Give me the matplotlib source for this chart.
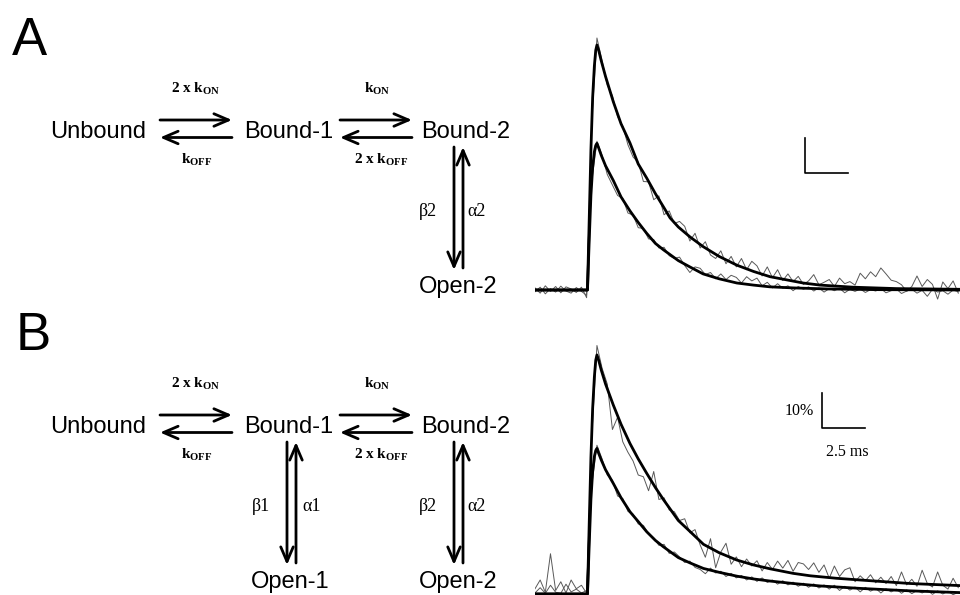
import numpy as np
import matplotlib
matplotlib.use('Agg')
import matplotlib.pyplot as plt

plt.rcParams['mathtext.fontset'] = 'custom'
plt.rcParams['mathtext.bf'] = 'Liberation Serif:bold'
plt.rcParams['mathtext.rm'] = 'Liberation Serif'
plt.rcParams['mathtext.it'] = 'Liberation Serif:italic'

"""
Two binding schemes (A, B) and the simulated / recorded responses next to them
"""

# sampling interval of the noisy recordings (ms)
dt = 0.3

# panel A, recorded traces (% of max), one sample every dt
a_high_raw = [0.6, -0.9, 1.2, -0.4, 1.0, -0.8, 0.9, 0.3, -0.7, 0.8,
              -2.2, 48, 72, 65.5, 58.5, 55.5, 49.5, 46.8, 41.5, 38.0,
              36.5, 31.0, 30.9, 25.8, 26.9, 21.5, 22.6, 19.0, 19.6, 18.2,
              14.0, 16.2, 12.0, 13.8, 10.0, 9.0, 11.2, 7.5, 9.6, 6.6,
              9.0, 5.8, 8.2, 6.9, 4.0, 6.6, 3.5, 5.8, 2.7, 4.6,
              2.4, 3.9, 1.6, 2.6, 4.4, 1.5, 2.2, 3.0, 1.0, 3.4,
              1.8, 2.4, 1.4, 4.8, 3.2, 5.2, 3.8, 6.3, 4.6, 2.8,
              2.4, 1.5, -0.4, 1.0, 4.0, 1.0, 3.0, 1.6, -2.6, 2.3,
              0.4, 2.6, -0.9]
a_low_raw = [-0.5, 0.8, -1.1, 0.4, -0.6, 1.1, -0.3, -0.9, 0.7, -0.4,
             -1.5, 31, 42.5, 38.5, 33.0, 30.0, 27.0, 26.2, 22.0, 21.4,
             17.8, 17.6, 14.6, 14.4, 12.0, 12.2, 9.8, 9.0, 9.4, 7.0,
             5.0, 6.6, 6.2, 4.4, 5.0, 3.2, 4.6, 3.0, 4.2, 3.6,
             2.0, 3.8, 2.6, 3.4, 1.2, 2.2, 0.6, 1.8, 0.5, 1.2,
             -0.2, 1.0, 0.2, 0.9, -0.3, 0.6, -0.6, 0.4, -0.2, 0.5,
             -0.8, 0.2, -0.4, 0.3, -0.7, 0.1, -0.3, 0.4, -0.8, -0.2,
             0.3, -1.0, -0.3, 0.2, -0.9, -0.1, -1.8, 0.2, -0.6, -0.2,
             -1.2, 0.0, -0.5]

# panel A, fitted curves (ms, %)
a_high_fit_t = [0, 3.05, 3.15, 3.25, 3.35, 3.45, 3.53, 3.6, 3.7, 3.85, 4.1, 4.55, 5.0, 5.52,
                6.0, 6.49, 7.0, 7.46, 7.85, 8.33, 9.0, 9.77, 10.7, 11.73, 12.7, 13.66,
                15.58, 16.57, 18.5, 21.0, 24.7]
a_high_fit = [0, 0, 20, 40, 55, 64, 68.5, 70, 68.5, 65.5, 61, 53.8, 47.5, 42,
              36, 32, 27.5, 23.8, 20.6, 18, 15.2, 12.4, 9.6, 7.1, 5.3, 3.8,
              2.0, 1.4, 0.8, 0.4, 0.2]
a_low_fit_t = [0, 3.05, 3.15, 3.25, 3.35, 3.45, 3.53, 3.6, 3.7, 3.85, 4.1, 4.55, 5.0, 5.52,
               6.0, 6.49, 7.0, 7.46, 8.33, 9.0, 9.77, 10.7, 11.73, 12.7, 13.66, 15.0,
               17.0, 20.0, 24.7]
a_low_fit = [0, 0, 14, 27, 35, 39.5, 41.3, 41.9, 40.6, 38.5, 35.5, 31.3, 26.6, 22.6,
             19.3, 16.2, 13.3, 11.5, 8.4, 6.6, 4.6, 3.2, 2.0, 1.4, 0.9, 0.6,
             0.3, 0.1, 0]

# panel B, recorded traces (% of max)
b_high_raw = [1.5, 4.0, 0.5, 11.5, 1.0, 3.5, 0.3, 4.0, 1.5, 2.5,
              0.2, 45, 71, 64.5, 60, 47, 50.5, 43.5, 40.5, 38.0,
              34.0, 33.5, 29.5, 35.0, 27.0, 27.5, 24.0, 23.5, 21.0, 21.5,
              17.5, 18.4, 14.0, 10.5, 15.8, 7.5, 12.0, 14.5, 8.5, 10.6,
              7.8, 10.0, 8.0, 9.5, 6.6, 9.0, 7.0, 9.4, 7.4, 9.6,
              6.5, 9.0, 8.6, 7.0, 8.9, 6.2, 8.3, 4.5, 8.0, 5.0,
              6.9, 7.5, 3.5, 5.2, 3.8, 5.5, 3.2, 4.8, 3.0, 5.0,
              2.4, 6.3, 2.6, 4.2, 2.2, 6.8, 3.0, 2.0, 6.3, 2.5,
              1.4, 4.5, 1.8]
b_low_raw = [0.3, 1.8, 0.2, 2.5, 0.5, 0.2, 2.8, 0.6, 1.4, 0.3,
             1.0, 31, 42.5, 38.6, 34.0, 32.5, 28.0, 27.3, 23.6, 22.8,
             20.0, 19.6, 17.2, 16.0, 13.9, 14.2, 11.6, 12.0, 10.6, 9.0,
             9.4, 7.6, 7.0, 5.8, 7.4, 6.0, 6.5, 5.0, 5.9, 4.6,
             5.3, 4.0, 4.9, 3.6, 4.6, 3.3, 4.0, 2.8, 3.8, 2.6,
             3.4, 2.2, 3.1, 1.9, 2.9, 1.7, 2.6, 1.4, 2.5, 1.0,
             2.2, 1.1, 2.0, 0.6, 1.9, 0.8, 1.6, 0.3, 1.5, 0.6,
             1.4, 0.2, 1.2, 0.1, 1.0, 0.3, 1.1, -0.1, 0.9, 0.0,
             0.8, -0.2, 0.5]

# panel B, fitted curves (ms, %)
b_high_fit_t = [0, 3.05, 3.15, 3.25, 3.35, 3.45, 3.53, 3.6, 3.7, 3.85, 4.1, 4.55, 5.0, 5.52,
                6.0, 6.49, 7.0, 7.46, 8.33, 9.0, 9.79, 10.7, 11.73, 12.7, 13.66, 15.0,
                16.0, 17.5, 18.9, 21.8, 24.7]
b_high_fit = [0, 0, 20, 39, 53, 62, 66.8, 68.3, 66.8, 64, 60, 54, 48.5, 43,
              38.6, 34.5, 30.4, 27, 21, 17.9, 14.2, 11.8, 9.7, 8.3, 7.2, 5.9,
              5.2, 4.5, 4.0, 3.0, 2.4]
b_low_fit_t = [0, 3.05, 3.15, 3.25, 3.35, 3.45, 3.53, 3.6, 3.7, 3.85, 4.1, 4.55, 5.0, 5.52,
               6.0, 6.49, 7.0, 7.46, 8.33, 9.0, 9.79, 10.7, 11.73, 12.7, 13.66, 15.0,
               16.57, 18.9, 21.8, 24.7]
b_low_fit = [0, 0, 14, 27, 35, 39.3, 41.0, 41.6, 40.2, 38.3, 35.5, 31.6, 27.5, 23.5,
             20.7, 17.8, 15.3, 13.5, 10.4, 8.9, 7.3, 6.2, 5.1, 4.3, 3.7, 3.0,
             2.3, 1.6, 0.9, 0.4]

# scale bars
scale_pct = 10
scale_ms = 2.5

# rate constant labels
k_on2 = r'$\mathbf{2\ x\ k}_{\mathbf{ON}}$'
k_off = r'$\mathbf{k}_{\mathbf{OFF}}$'
k_on = r'$\mathbf{k}_{\mathbf{ON}}$'
k_off2 = r'$\mathbf{2\ x\ k}_{\mathbf{OFF}}$'

W, H = 960, 595
fig = plt.figure(figsize=(W / 100, H / 100), dpi=100)

# scheme layer, in pixel units
ax = fig.add_axes([0, 0, 1, 1])
ax.set_xlim(0, W)
ax.set_ylim(H, 0)
ax.axis('off')

SANS = 'Liberation Sans'
SERIF = 'Liberation Serif'


def arrow(x0, y0, x1, y1):
    ax.annotate('', xy=(x1, y1), xytext=(x0, y0),
                arrowprops=dict(arrowstyle='->,head_length=1.05,head_width=0.45',
                                lw=2.0, color='k', shrinkA=0, shrinkB=0))


def state(x, y, name):
    ax.text(x, y, name, fontsize=17, family=SANS, ha='center', va='baseline')


def draw_scheme(y0, with_open1):
    # y0 = baseline of the top row of states
    state(98, y0, 'Unbound')
    state(289, y0, 'Bound-1')
    state(466, y0, 'Bound-2')
    yf, yb = y0 - 18, y0 - 0.5
    arrow(160, yf, 232, yf)
    arrow(232, yb, 160, yb)
    arrow(340, yf, 412, yf)
    arrow(412, yb, 340, yb)
    ax.text(196, y0 - 45, k_on2, fontsize=11, ha='center', va='baseline')
    ax.text(197, y0 + 26, k_off, fontsize=11, ha='center', va='baseline')
    ax.text(377, y0 - 45, k_on, fontsize=11, ha='center', va='baseline')
    ax.text(381, y0 + 26, k_off2, fontsize=11, ha='center', va='baseline')
    # Bound-2 <-> Open-2
    top, bot = y0 + 9, y0 + 132
    arrow(454, top, 454, bot)
    arrow(463, bot - 2, 463, top)
    ax.text(428, y0 + 78, 'β2', fontsize=13, family=SERIF, ha='center', va='baseline')
    ax.text(477, y0 + 78, 'α2', fontsize=13, family=SERIF, ha='center', va='baseline')
    state(458, y0 + 155, 'Open-2')
    if with_open1:
        arrow(287, top, 287, bot)
        arrow(296, bot - 2, 296, top)
        ax.text(261, y0 + 78, 'β1', fontsize=13, family=SERIF, ha='center', va='baseline')
        ax.text(312, y0 + 78, 'α1', fontsize=13, family=SERIF, ha='center', va='baseline')
        state(290, y0 + 155, 'Open-1')


ax.text(12, 55, 'A', fontsize=38, family=SANS, va='baseline')
ax.text(16, 350, 'B', fontsize=38, family=SANS, va='baseline')
draw_scheme(138, False)
draw_scheme(433, True)


def trace_axes(top_px, bot_px, zero_px):
    px_per_pct = 3.5
    a = fig.add_axes([535 / W, 1 - bot_px / H, (W - 535) / W, (bot_px - top_px) / H])
    a.set_xlim(0, 24.7)
    a.set_ylim(-(bot_px - zero_px) / px_per_pct, (zero_px - top_px) / px_per_pct)
    a.axis('off')
    a.patch.set_alpha(0)
    return a


def draw_traces(a, raw, fit_t, fit):
    for r in raw:
        t = np.arange(len(r)) * dt
        a.plot(t, r, color='0.35', lw=0.7)
    for ft, fv in zip(fit_t, fit):
        a.plot(ft, fv, color='k', lw=2.0, solid_joinstyle='round')


ax_a = trace_axes(30, 305, 290)
draw_traces(ax_a, [a_high_raw, a_low_raw], [a_high_fit_t, a_low_fit_t], [a_high_fit, a_low_fit])
# scale bar, A (unlabelled)
ax_a.plot([15.7, 15.7, 15.7 + scale_ms], [33.4 + scale_pct, 33.4, 33.4], color='k', lw=1.2)

ax_b = trace_axes(330, 595, 594)
draw_traces(ax_b, [b_high_raw, b_low_raw], [b_high_fit_t, b_low_fit_t], [b_high_fit, b_low_fit])
ax_b.plot([16.7, 16.7, 16.7 + scale_ms], [47.4 + scale_pct, 47.4, 47.4], color='k', lw=1.2)
ax_b.text(16.2, 52.4, '%d%%' % scale_pct, fontsize=11.5, family=SERIF, ha='right', va='center')
ax_b.text(16.9, 40.5, '%g ms' % scale_ms, fontsize=11.5, family=SERIF, ha='left', va='center')

fig.savefig('out.png', dpi=100)
